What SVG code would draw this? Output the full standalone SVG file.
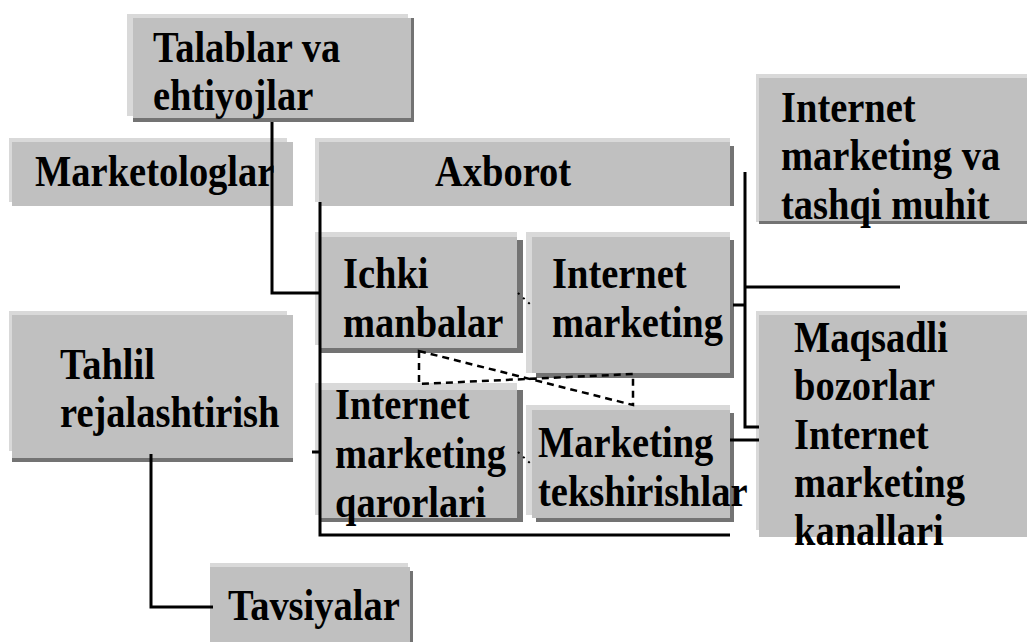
<svg xmlns="http://www.w3.org/2000/svg" width="1027" height="642" viewBox="0 0 1027 642">
  <style>
    .hl { fill: #d9d9d9; }
    .sh { fill: #737373; }
    .bx { fill: #c0c0c0; }
    text { font-family: "Liberation Serif", "Times New Roman", serif; font-weight: bold; font-size: 38.5px; fill: #000; }
    .ln { fill: none; stroke: #000; stroke-width: 3; }
    .ds { fill: none; stroke: #000; stroke-width: 2.5; stroke-dasharray: 7 5; }
    .dt { fill: none; stroke: #000; stroke-width: 2; stroke-dasharray: 2 5; }
  </style>
  <rect width="1027" height="642" fill="#fff"/>

  <g id="talablar">
    <rect class="hl" x="127" y="14" width="281" height="102"/>
    <rect class="sh" x="133" y="18" width="281" height="104"/>
    <rect class="bx" x="133" y="18" width="278" height="100"/>
    <text transform="translate(153,62) scale(1,1.13)">Talablar va</text>
    <text transform="translate(153,110) scale(1,1.13)">ehtiyojlar</text>
  </g>

  <g id="marketologlar">
    <rect class="hl" x="9" y="138" width="278" height="64"/>
    <rect class="bx" x="12" y="142" width="281" height="64"/>
    <text transform="translate(35,186) scale(1,1.13)">Marketologlar</text>
  </g>

  <g id="axborot">
    <rect class="hl" x="315" y="138" width="415" height="64"/>
    <rect class="sh" x="319" y="146" width="415" height="60"/>
    <rect class="bx" x="319" y="142" width="411" height="64"/>
    <text transform="translate(435,186) scale(1,1.13)">Axborot</text>
  </g>

  <g id="tashqi-muhit">
    <rect class="hl" x="756" y="74" width="271" height="148"/>
    <rect class="sh" x="759" y="78" width="268" height="146"/>
    <rect class="bx" x="759" y="78" width="268" height="143"/>
    <text transform="translate(781,122) scale(1,1.13)">Internet</text>
    <text transform="translate(781,170) scale(1,1.13)">marketing va</text>
    <text transform="translate(781,219) scale(1,1.13)">tashqi muhit</text>
  </g>

  <g id="ichki-manbalar">
    <rect class="hl" x="315" y="232" width="202" height="113"/>
    <rect class="sh" x="321" y="240" width="202" height="113"/>
    <rect class="bx" x="321" y="237" width="196" height="111"/>
    <text transform="translate(343,288) scale(1,1.13)">Ichki</text>
    <text transform="translate(343,337) scale(1,1.13)">manbalar</text>
  </g>

  <g id="internet-marketing">
    <rect class="hl" x="526" y="232" width="204" height="141"/>
    <rect class="sh" x="536" y="240" width="198" height="138"/>
    <rect class="bx" x="532" y="237" width="198" height="136"/>
    <text transform="translate(552,288) scale(1,1.13)">Internet</text>
    <text transform="translate(552,337) scale(1,1.13)">marketing</text>
  </g>

  <g id="qarorlar">
    <rect class="hl" x="315" y="383" width="202" height="132"/>
    <rect class="sh" x="321" y="390" width="202" height="132"/>
    <rect class="bx" x="321" y="390" width="196" height="128"/>
    <text transform="translate(335,419) scale(1,1.13)">Internet</text>
    <text transform="translate(335,468) scale(1,1.13)">marketing</text>
    <text transform="translate(335,517) scale(1,1.13)">qarorlari</text>
  </g>

  <g id="tekshirishlar">
    <rect class="hl" x="526" y="405" width="204" height="110"/>
    <rect class="sh" x="536" y="413" width="198" height="109"/>
    <rect class="bx" x="532" y="410" width="198" height="108"/>
    <text transform="translate(538,457) scale(1,1.13)">Marketing</text>
    <text transform="translate(538,506) scale(1,1.13)">tekshirishlar</text>
  </g>

  <g id="maqsadli-bozorlar">
    <rect class="hl" x="756" y="311" width="271" height="219"/>
    <rect class="bx" x="759" y="315" width="268" height="222"/>
    <text transform="translate(794,352) scale(1,1.13)">Maqsadli</text>
    <text transform="translate(794,400) scale(1,1.13)">bozorlar</text>
    <text transform="translate(794,449) scale(1,1.13)">Internet</text>
    <text transform="translate(794,497) scale(1,1.13)">marketing</text>
    <text transform="translate(794,545) scale(1,1.13)">kanallari</text>
  </g>

  <g id="tahlil">
    <rect class="hl" x="9" y="311" width="278" height="140"/>
    <rect class="sh" x="12" y="315" width="281" height="147"/>
    <rect class="bx" x="12" y="315" width="281" height="143"/>
    <text transform="translate(60,379) scale(1,1.13)">Tahlil</text>
    <text transform="translate(60,427) scale(1,1.13)">rejalashtirish</text>
  </g>

  <g id="tavsiyalar">
    <rect class="hl" x="210" y="563" width="198" height="79"/>
    <rect class="sh" x="210" y="571" width="203" height="71"/>
    <rect class="bx" x="210" y="567" width="200" height="75"/>
    <text transform="translate(228,620) scale(1,1.13)">Tavsiyalar</text>
  </g>

  <g id="connectors">
    <!-- needs feed into the information block -->
    <polyline class="ln" points="272,122 272,293 320,293"/>
    <!-- left bracket around the information block -->
    <polyline class="ln" points="320,202 320,535 730,535"/>
    <line class="ln" x1="312" y1="452" x2="320" y2="452"/>
    <!-- analysis to recommendations -->
    <polyline class="ln" points="151,454 151,607 213,607"/>
    <!-- right bracket to the environment and markets -->
    <polyline class="ln" points="745,172 745,427 759,427"/>
    <line class="ln" x1="745" y1="287" x2="900" y2="287"/>
    <line class="ln" x1="733" y1="305" x2="745" y2="305"/>
    <line class="ln" x1="730" y1="440" x2="759" y2="440"/>
    <!-- dotted links between neighbouring boxes -->
    <line class="dt" x1="518" y1="293" x2="532" y2="306"/>
    <line class="dt" x1="518" y1="452" x2="532" y2="465"/>
    <!-- dashed crossed feedback loop -->
    <path class="ds" d="M419,351 L633,405 L633,374 L419,384 Z"/>
  </g>
</svg>
